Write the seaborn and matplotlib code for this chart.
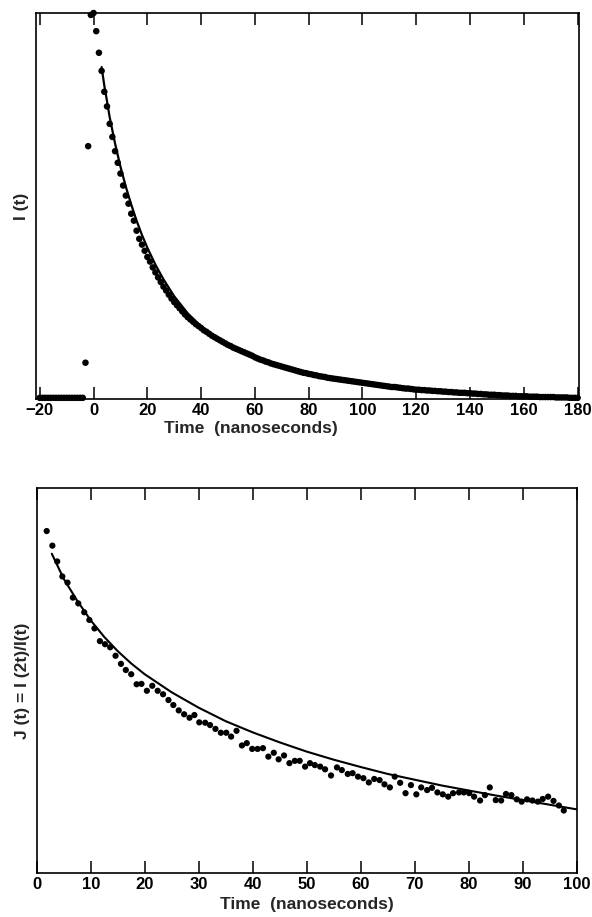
import numpy as np
import pandas as pd
import matplotlib
matplotlib.use("Agg")
import matplotlib.pyplot as plt
import seaborn as sns

# ---- panel 1: decay curve I(t) ----
t_top = np.arange(-20, 181)
i_top = [
    # -20 .. -1
    0.003, 0.003, 0.003, 0.003, 0.003, 0.003, 0.003, 0.003, 0.003, 0.003,
    0.003, 0.003, 0.003, 0.003, 0.003, 0.003, 0.003, 0.094, 0.655, 0.995,
    # 0 .. 19
    1.000, 0.953, 0.897, 0.850, 0.796, 0.758, 0.713, 0.679, 0.642, 0.612,
    0.584, 0.553, 0.527, 0.506, 0.480, 0.462, 0.436, 0.415, 0.400, 0.384,
    # 20 .. 39
    0.368, 0.356, 0.341, 0.328, 0.315, 0.303, 0.291, 0.281, 0.270, 0.260,
    0.251, 0.243, 0.235, 0.227, 0.219, 0.212, 0.206, 0.200, 0.194, 0.189,
    # 40 .. 59
    0.184, 0.178, 0.174, 0.169, 0.164, 0.160, 0.156, 0.152, 0.148, 0.144,
    0.140, 0.137, 0.133, 0.130, 0.127, 0.124, 0.121, 0.118, 0.115, 0.112,
    # 60 .. 79
    0.108, 0.105, 0.102, 0.100, 0.097, 0.095, 0.092, 0.090, 0.088, 0.086,
    0.084, 0.082, 0.080, 0.078, 0.076, 0.074, 0.072, 0.070, 0.068, 0.067,
    # 80 .. 99
    0.065, 0.064, 0.062, 0.061, 0.059, 0.058, 0.057, 0.055, 0.054, 0.053,
    0.052, 0.051, 0.050, 0.049, 0.048, 0.047, 0.046, 0.045, 0.044, 0.043,
    # 100 .. 119
    0.042, 0.041, 0.040, 0.039, 0.038, 0.037, 0.036, 0.035, 0.034, 0.033,
    0.032, 0.031, 0.031, 0.030, 0.029, 0.028, 0.027, 0.027, 0.026, 0.025,
    # 120 .. 139
    0.024, 0.024, 0.023, 0.023, 0.022, 0.022, 0.021, 0.021, 0.020, 0.020,
    0.019, 0.019, 0.018, 0.018, 0.017, 0.017, 0.016, 0.016, 0.016, 0.015,
    # 140 .. 159
    0.015, 0.014, 0.014, 0.013, 0.013, 0.012, 0.012, 0.011, 0.011, 0.011,
    0.010, 0.010, 0.009, 0.009, 0.009, 0.008, 0.008, 0.008, 0.007, 0.007,
    # 160 .. 180
    0.007, 0.007, 0.006, 0.006, 0.006, 0.006, 0.005, 0.005, 0.005, 0.005,
    0.005, 0.005, 0.004, 0.004, 0.004, 0.004, 0.004, 0.003, 0.003, 0.003,
    0.003,
]

# fitted curve for panel 1
t_fit_top = [3, 4, 5, 6, 8, 10, 12, 14, 16, 18, 20, 23, 26, 30, 35, 40, 45,
             50, 60, 70, 80, 90, 100, 120, 140, 160, 180]
i_fit_top = [0.860, 0.812, 0.772, 0.730, 0.662, 0.602, 0.550, 0.504, 0.462,
             0.425, 0.392, 0.348, 0.310, 0.266, 0.222, 0.188, 0.162, 0.141,
             0.108, 0.084, 0.065, 0.052, 0.042, 0.025, 0.015, 0.008, 0.004]

# ---- panel 2: J(t) = I(2t)/I(t) ----
t_bot = [1.85, 2.9, 3.8, 4.75, 5.7, 6.7, 7.7, 8.8, 9.75, 10.7,
         11.7, 12.65, 13.6, 14.6, 15.6, 16.5, 17.5, 18.5, 19.4, 20.4,
         21.4, 22.4, 23.4, 24.4, 25.3, 26.3, 27.3, 28.3, 29.2, 30.1,
         31.2, 32.1, 33.1, 34.1, 35.1, 36.0, 37.0, 38.0, 38.9, 39.9,
         40.9, 41.9, 42.9, 43.9, 44.8, 45.8, 46.8, 47.8, 48.7, 49.7,
         50.6, 51.5, 52.5, 53.4, 54.5, 55.6, 56.5, 57.6, 58.5, 59.5,
         60.5, 61.5, 62.5, 63.5, 64.4, 65.4, 66.3, 67.3, 68.3, 69.3,
         70.3, 71.2, 72.3, 73.2, 74.2, 75.2, 76.2, 77.1, 78.2, 79.1,
         80.1, 81.0, 82.1, 83.0, 83.9, 85.0, 86.0, 86.9, 87.9, 88.9,
         89.8, 90.8, 91.8, 92.8, 93.7, 94.7, 95.7, 96.7, 97.6]
j_bot = [0.889, 0.851, 0.810, 0.771, 0.755, 0.716, 0.701, 0.678, 0.658, 0.636,
         0.603, 0.595, 0.587, 0.565, 0.544, 0.528, 0.517, 0.491, 0.492, 0.474,
         0.487, 0.474, 0.465, 0.450, 0.437, 0.423, 0.413, 0.404, 0.411, 0.392,
         0.391, 0.385, 0.375, 0.365, 0.365, 0.355, 0.370, 0.332, 0.338, 0.323,
         0.323, 0.325, 0.303, 0.313, 0.296, 0.306, 0.286, 0.292, 0.292, 0.277,
         0.286, 0.281, 0.277, 0.270, 0.254, 0.275, 0.268, 0.258, 0.260, 0.251,
         0.247, 0.236, 0.245, 0.242, 0.231, 0.223, 0.251, 0.235, 0.208, 0.229,
         0.205, 0.223, 0.216, 0.222, 0.210, 0.205, 0.199, 0.208, 0.210, 0.210,
         0.208, 0.199, 0.189, 0.203, 0.223, 0.190, 0.189, 0.206, 0.203, 0.192,
         0.186, 0.192, 0.189, 0.186, 0.193, 0.199, 0.188, 0.176, 0.163]

t_fit_bot = [2.8, 5, 7.5, 10, 12.5, 15, 17.5, 20, 25, 30, 35, 40, 45, 50,
             55, 60, 65, 70, 75, 80, 85, 90, 95, 100]
j_fit_bot = [0.830, 0.765, 0.708, 0.657, 0.614, 0.577, 0.545, 0.517, 0.470,
             0.430, 0.395, 0.366, 0.340, 0.316, 0.295, 0.276, 0.258, 0.243,
             0.228, 0.215, 0.202, 0.190, 0.178, 0.166]

sns.set_style("ticks")
plt.rcParams["font.family"] = ["Liberation Sans", "DejaVu Sans"]
plt.rcParams["font.weight"] = "bold"

fig = plt.figure(figsize=(5.92, 9.17), dpi=100)
ax1 = fig.add_axes([0.0608, 0.5649, 0.9172, 0.4209])
ax2 = fig.add_axes([0.0620, 0.0477, 0.9122, 0.4198])

df_top = pd.DataFrame({"t": t_top, "I": i_top})
df_fit_top = pd.DataFrame({"t": t_fit_top, "I": i_fit_top})
df_bot = pd.DataFrame({"t": t_bot, "J": j_bot})
df_fit_bot = pd.DataFrame({"t": t_fit_bot, "J": j_fit_bot})

# PANEL 1
sns.scatterplot(data=df_top, x="t", y="I", ax=ax1, color="black", s=22,
                edgecolor="none", clip_on=False, zorder=3)
sns.lineplot(data=df_fit_top, x="t", y="I", ax=ax1, color="black",
             linewidth=1.6, zorder=4)
ax1.set_xlim(-21.4, 180.5)
ax1.set_ylim(0, 1.0)
ax1.set_xticks(range(-20, 181, 20))
ax1.set_xticklabels(["\u221220"] + [str(v) for v in range(0, 181, 20)])
ax1.set_yticks([])
ax1.set_xlabel("Time  (nanoseconds)", fontsize=12.5, fontweight="bold")
ax1.xaxis.set_label_coords(0.395, -0.058)
ax1.set_ylabel("I (t)", fontsize=12.5, fontweight="bold", labelpad=5)

# PANEL 2
sns.scatterplot(data=df_bot, x="t", y="J", ax=ax2, color="black", s=20,
                edgecolor="none", zorder=3)
sns.lineplot(data=df_fit_bot, x="t", y="J", ax=ax2, color="black",
             linewidth=1.5, zorder=4)
ax2.set_xlim(0, 100)
ax2.set_ylim(0, 1.0)
ax2.set_xticks(range(0, 101, 10))
ax2.set_yticks([])
ax2.set_xlabel("Time  (nanoseconds)", fontsize=12.5, fontweight="bold",
               labelpad=3)
ax2.set_ylabel("J (t) = I (2t)/I(t)", fontsize=12.5, fontweight="bold",
               labelpad=5)

for ax in (ax1, ax2):
    for sp in ax.spines.values():
        sp.set_visible(True)
        sp.set_linewidth(1.2)
        sp.set_color("black")
    ax.tick_params(axis="x", direction="in", length=8.5, width=1.1,
                   top=True, bottom=True, labelsize=12, pad=3,
                   colors="black")
    for lab in ax.get_xticklabels():
        lab.set_fontweight("bold")

fig.savefig("out.png", dpi=100)
